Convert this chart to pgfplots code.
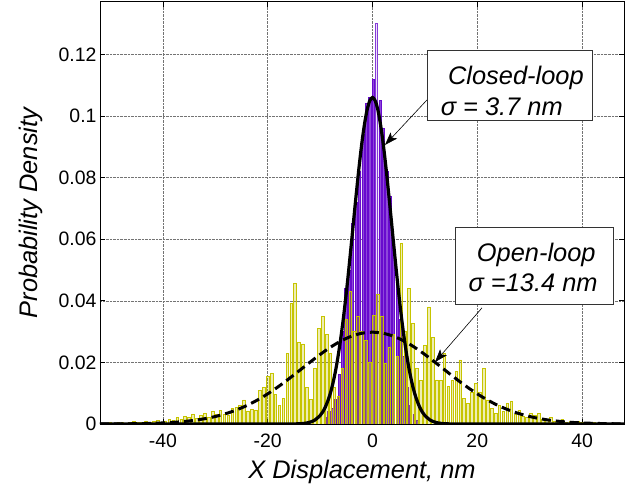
\documentclass[border=0pt]{standalone}
\usepackage{pgfplots}
\pgfplotsset{compat=1.18}
\usepackage{fontspec}
\setmainfont{Liberation Sans}
\usetikzlibrary{arrows.meta}
\definecolor{purp}{RGB}{104,10,206}
\definecolor{yel}{RGB}{198,196,0}
\begin{document}
\begin{tikzpicture}
\begin{axis}[
  scale only axis, width=524bp, height=422bp,
  xmin=-52, xmax=48, ymin=0, ymax=0.137,
  xtick={-40,-20,0,20,40}, xticklabels={-40,-20,0,20,40},
  ytick={0,0.02,0.04,0.06,0.08,0.1,0.12},
  yticklabels={0,0.02,0.04,0.06,0.08,0.1,0.12},
  tick align=inside, major tick length=5bp,
  tick style={black, line width=0.6pt},
  axis line style={black, line width=1pt},
  grid=major, major grid style={densely dotted, black!55, line width=0.5pt},
  ticklabel style={font=\fontsize{19.5}{22}\selectfont},
  xticklabel style={yshift=-6bp},
  /pgf/number format/assume math mode=true,
  xlabel={\itshape X Displacement, nm},
  ylabel={\itshape Probability Density},
  label style={font=\fontsize{25.5}{30}\selectfont},
  xlabel style={yshift=-6bp},
  ylabel style={yshift=9bp},
  clip=true, axis on top=false,
]
% closed-loop histogram
\addplot[ybar, bar width=0.42, bar shift=0pt, draw=purp, line width=0.9pt, fill=purp!75] coordinates {
(-8.95,0.002) (-8.30,0.004) (-7.65,0.005) (-7.00,0.008) (-6.35,0.016) (-5.70,0.030)
(-5.05,0.044) (-4.40,0.050) (-3.75,0.065) (-3.10,0.072) (-2.45,0.082) (-1.80,0.094)
(-1.15,0.104) (-0.50,0.106) (0.15,0.112) (1.45,0.105) (2.10,0.096)
(2.75,0.082) (3.40,0.074) (4.05,0.060) (4.70,0.046) (5.35,0.034) (6.00,0.022)
(6.65,0.012) (7.30,0.006) (7.95,0.003) (8.60,0.001)
};
% closed-loop tallest bin (hollow)
\addplot[ybar, bar width=0.42, bar shift=0pt, draw=purp!80, line width=0.9pt, fill=purp!12] coordinates {
(0.80,0.130)
};
% open-loop histogram
\addplot[ybar, bar width=0.5, bar shift=0pt, draw=yel, line width=0.8pt, fill=yel, fill opacity=0.3, draw opacity=1] coordinates {
(-50.00,0.0005) (-49.25,0.0002) (-48.50,0.0004) (-47.75,0.0006) (-47.00,0.0002) (-46.25,0.0005)
(-45.50,0.0008) (-44.75,0.0004) (-44.00,0.0006) (-43.25,0.0010) (-42.50,0.0005) (-41.75,0.0008)
(-41.00,0.0012) (-40.25,0.0006) (-39.50,0.0010) (-38.75,0.0015) (-38.00,0.0012) (-37.25,0.0020)
(-36.50,0.0016) (-35.75,0.0024) (-35.00,0.0020) (-34.25,0.0030) (-33.50,0.0018) (-32.75,0.0028)
(-32.00,0.0035) (-31.25,0.0022) (-30.50,0.0040) (-29.75,0.0032) (-29.00,0.0045) (-28.25,0.0030)
(-27.50,0.0028) (-26.75,0.0050) (-26.00,0.0055) (-25.25,0.0060) (-24.50,0.0078) (-23.75,0.0040)
(-23.00,0.0048) (-22.25,0.0045) (-21.50,0.0110) (-20.75,0.0120) (-20.00,0.0153) (-19.25,0.0165)
(-18.50,0.0097) (-17.75,0.0060) (-17.00,0.0082) (-16.25,0.0230) (-15.50,0.0390) (-14.75,0.0457)
(-14.00,0.0266) (-13.25,0.0260) (-12.50,0.0120) (-11.75,0.0080) (-11.00,0.0180) (-10.25,0.0310)
(-9.50,0.0348) (-8.75,0.0290) (-8.00,0.0230) (-7.25,0.0120) (-6.50,0.0090) (-5.75,0.0180)
(-5.00,0.0340) (-4.25,0.0429) (-3.50,0.0300) (-2.75,0.0348) (-2.00,0.0299) (-1.25,0.0272)
(-0.50,0.0200) (0.25,0.0353) (1.00,0.0420) (1.75,0.0348) (2.50,0.0197) (3.25,0.0250)
(4.00,0.0290) (4.75,0.0220) (5.50,0.0586) (6.25,0.0300) (7.00,0.0440) (7.75,0.0326)
(8.50,0.0180) (9.25,0.0140) (10.00,0.0256) (10.75,0.0380) (11.50,0.0280) (12.25,0.0143)
(13.00,0.0140) (13.75,0.0230) (14.50,0.0121) (15.25,0.0140) (16.00,0.0170) (16.75,0.0208)
(17.50,0.0083) (18.25,0.0067) (19.00,0.0104) (19.75,0.0131) (20.50,0.0104) (21.25,0.0180)
(22.00,0.0078) (22.75,0.0051) (23.50,0.0035) (24.25,0.0060) (25.00,0.0040) (25.75,0.0067)
(26.50,0.0072) (27.25,0.0030) (28.00,0.0045) (28.75,0.0025) (29.50,0.0020) (30.25,0.0035)
(31.00,0.0028) (31.75,0.0035) (32.50,0.0015) (33.25,0.0012) (34.00,0.0020) (34.75,0.0010)
(35.50,0.0008) (36.25,0.0015) (37.00,0.0006) (37.75,0.0010) (38.50,0.0005) (39.25,0.0008)
(40.00,0.0004) (40.75,0.0006) (41.50,0.0003) (42.25,0.0005) (43.00,0.0002) (43.75,0.0004)
(44.50,0.0002) (45.25,0.0003) (46.00,0.0002) (46.75,0.0001)
};
% closed-loop fit
\addplot[black, line width=3.2bp, smooth] coordinates {
(-52,0) (-20,0) (-16,0) (-14,0.00008) (-13,0.00022) (-12,0.00055) (-11,0.00128) (-10,0.00275)
(-9.5,0.0039) (-9,0.0055) (-8.5,0.0076) (-8,0.0102) (-7.5,0.0136) (-7,0.0177) (-6.5,0.0227)
(-6,0.0285) (-5.5,0.0351) (-5,0.0425) (-4.5,0.0506) (-4,0.0591) (-3.5,0.0678) (-3,0.0763)
(-2.5,0.0844) (-2,0.0916) (-1.5,0.0976) (-1,0.1022) (-0.5,0.1050) (0,0.1060)
(0.5,0.1050) (1,0.1022) (1.5,0.0976) (2,0.0916) (2.5,0.0844) (3,0.0763) (3.5,0.0678)
(4,0.0591) (4.5,0.0506) (5,0.0425) (5.5,0.0351) (6,0.0285) (6.5,0.0227) (7,0.0177)
(7.5,0.0136) (8,0.0102) (8.5,0.0076) (9,0.0055) (9.5,0.0039) (10,0.00275) (11,0.00128)
(12,0.00055) (13,0.00022) (14,0.00008) (16,0) (20,0) (48,0)
};
% open-loop fit
\addplot[black, line width=3bp, dash pattern=on 9bp off 5bp, smooth] coordinates {
(-52,0.00002) (-50,0.00003) (-48,0.00005) (-46,0.00008) (-44,0.00014) (-42,0.00022) (-40,0.00035)
(-38,0.00053) (-36,0.00081) (-34,0.00119) (-32,0.00172) (-30,0.00243) (-28,0.00336) (-26,0.00454)
(-24,0.00599) (-22,0.00774) (-20,0.00978) (-18,0.01209) (-16,0.01461) (-14,0.01727) (-12,0.01996)
(-10,0.02256) (-8,0.02494) (-6,0.02696) (-4,0.02850) (-2,0.02947) (0,0.02980)
(2,0.02947) (4,0.02850) (6,0.02696) (8,0.02494) (10,0.02256) (12,0.01996) (14,0.01727)
(16,0.01461) (18,0.01209) (20,0.00978) (22,0.00774) (24,0.00599) (26,0.00454) (28,0.00336)
(30,0.00243) (32,0.00172) (34,0.00119) (36,0.00081) (38,0.00053) (40,0.00035) (42,0.00022)
(44,0.00014) (46,0.00008) (48,0.00005)
};
% annotations
\draw[black!80, line width=0.6pt, fill=white] (axis cs:10.4,0.0987) rectangle (axis cs:41.9,0.1214);
\node[anchor=base west, inner sep=0pt, font=\fontsize{25.5}{30}\selectfont\itshape] at (axis cs:14.4,0.1101) {Closed-loop};
\node[anchor=base west, inner sep=0pt, font=\fontsize{25.5}{30}\selectfont\itshape] at (axis cs:13.0,0.1003) {σ = 3.7 nm};
\draw[black!80, line width=0.6pt, fill=white] (axis cs:15.75,0.0390) rectangle (axis cs:45.9,0.0640);
\node[anchor=base west, inner sep=0pt, font=\fontsize{25.5}{30}\selectfont\itshape] at (axis cs:19.9,0.0527) {Open-loop};
\node[anchor=base west, inner sep=0pt, font=\fontsize{25.5}{30}\selectfont\itshape] at (axis cs:18.3,0.0430) {σ =13.4 nm};
\draw[black, line width=0.6pt, -{Stealth[length=13bp,width=9bp,inset=3bp]}] (axis cs:10.4,0.1052) -- (axis cs:2.39,0.0906);
\draw[black, line width=0.6pt, -{Stealth[length=13bp,width=9bp,inset=3bp]}] (axis cs:20.9,0.0377) -- (axis cs:11.93,0.0201);
\end{axis}
\path (current axis.south west) ++(-100bp,-66bp) rectangle ++(632bp,490bp);
\end{tikzpicture}
\end{document}
